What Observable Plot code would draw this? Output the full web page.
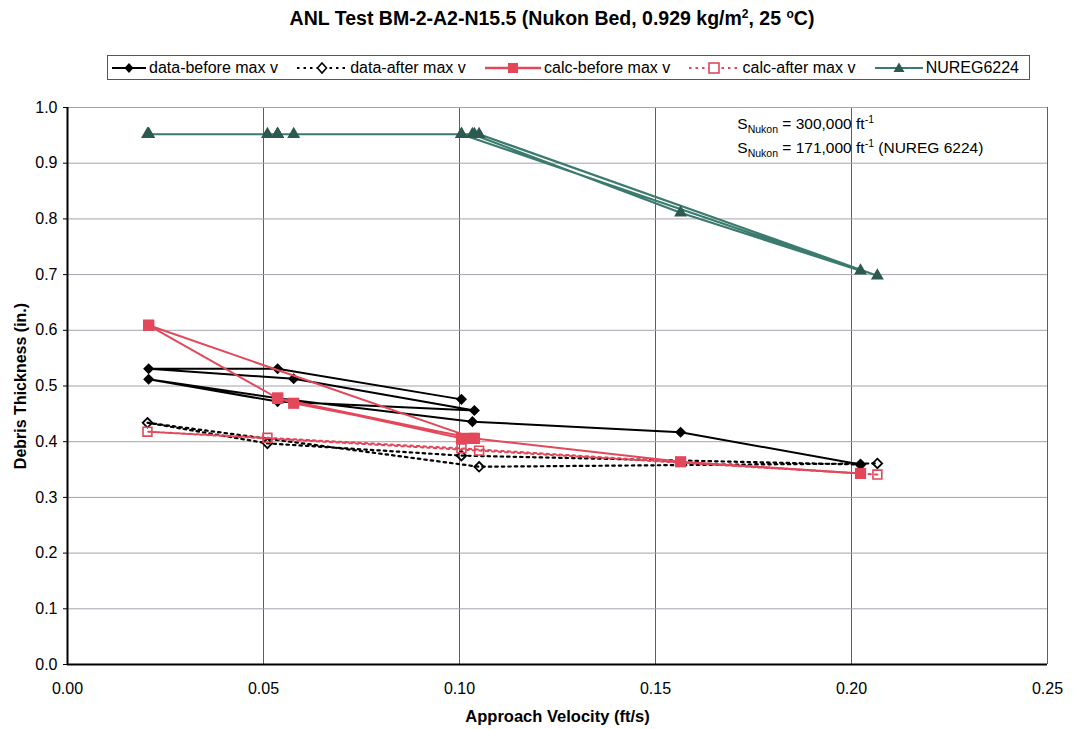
<!DOCTYPE html>
<html>
<head>
<meta charset="utf-8">
<script src="https://cdn.jsdelivr.net/npm/d3@7"></script>
<script src="https://cdn.jsdelivr.net/npm/@observablehq/plot@0.6"></script>
<style>
  body { margin: 0; background: #fff; font-family: "Liberation Sans", Arial, sans-serif; color: #000; }
  #title { height: 42px; box-sizing: border-box; padding-top: 7px; padding-left: 18px; text-align: center; font-weight: bold; font-size: 19.5px; line-height: 22px; }
  #title sup { font-size: 12px; vertical-align: 7px; line-height: 0; }
  #legendWrap { height: 50px; position: relative; }
  #legend { position: absolute; left: 107px; top: 13px; width: 923px; height: 25px; box-sizing: border-box; border: 1px solid #555;
            display: flex; align-items: center; justify-content: space-between; padding: 0 10px 0 4px; font-size: 16px; white-space: nowrap; }
  .item { display: flex; align-items: center; }
  .item svg { margin-right: 3px; }
  #chart svg { display: block; }
</style>
</head>
<body>
<div id="title">ANL Test BM-2-A2-N15.5 (Nukon Bed, 0.929 kg/m<sup>2</sup>, 25 <sup>o</sup>C)</div>
<div id="legendWrap"><div id="legend"></div></div>
<div id="chart"></div>
<script>
// ---- data ----
const seriesNames = ["data-before max v", "data-after max v", "calc-before max v", "calc-after max v", "NUREG6224"];

const vBefore    = [0.1005, 0.0536, 0.0207, 0.0577, 0.1038, 0.0536, 0.0207, 0.0536, 0.1033, 0.1564, 0.2023];
const dataBefore = [0.476, 0.531, 0.531, 0.513, 0.456, 0.472, 0.512, 0.478, 0.436, 0.417, 0.359];

const vCalcBefore = [0.1005, 0.0536, 0.0207, 0.1038, 0.0577, 0.0536, 0.0207, 0.0536, 0.1033, 0.1564, 0.2023];
const calcBefore  = [0.406, 0.478, 0.609, 0.406, 0.469, 0.478, 0.609, 0.478, 0.406, 0.364, 0.343];

const vAfter    = [0.2023, 0.1005, 0.0510, 0.0204, 0.1050, 0.2066];
const dataAfter = [0.359, 0.375, 0.397, 0.434, 0.355, 0.361];
const calcAfter = [0.343, 0.388, 0.407, 0.418, 0.384, 0.341];

const vNureg = [0.1005, 0.0536, 0.0207, 0.0577, 0.1038, 0.0536, 0.0207, 0.0536, 0.1033, 0.1564, 0.2023, 0.1005, 0.0510, 0.0204, 0.1050, 0.2066];
const nureg  = [0.952, 0.952, 0.952, 0.952, 0.952, 0.952, 0.952, 0.952, 0.952, 0.811, 0.707, 0.952, 0.952, 0.952, 0.952, 0.698];

const xTicks = [0, 0.05, 0.10, 0.15, 0.20, 0.25];
const yTicks = [0, 0.1, 0.2, 0.3, 0.4, 0.5, 0.6, 0.7, 0.8, 0.9, 1.0];

const annX = 0.171;
const annY = [0.96, 0.918];
const annValues = ["300,000", "171,000"];
const annExtra = ["", "(NUREG 6224)"];

// ---- build tables ----
const zip = (xs, ys) => xs.map((v, i) => ({v, t: ys[i]}));
const tDataBefore = zip(vBefore, dataBefore);
const tDataAfter = zip(vAfter, dataAfter);
const tCalcBefore = zip(vCalcBefore, calcBefore);
const tCalcAfter = zip(vAfter, calcAfter);
const tNureg = zip(vNureg, nureg);

const RED = "#e2485a";
const TEAL = "#3b7a6e";
const TEAL_DARK = "#2c5a4f";
const FONT = "'Liberation Sans', Arial, sans-serif";

const chart = Plot.plot({
  width: 1086,
  height: 637,
  marginTop: 15,
  marginLeft: 67,
  marginRight: 39,
  marginBottom: 65,
  style: {fontFamily: FONT, fontSize: "16px", background: "#fff", overflow: "visible"},
  x: {domain: [0, 0.25]},
  y: {domain: [0, 1]},
  marks: [
    Plot.ruleX(xTicks.slice(1), {y1: 0, y2: 1, stroke: "#5e5e5e", strokeWidth: 1}),
    Plot.ruleY(yTicks.slice(1), {x1: 0, x2: 0.25, stroke: "#a6a2ae", strokeWidth: 1}),
    Plot.axisX({ticks: xTicks, tickFormat: d3.format(".2f"), tickSize: 0, tickPadding: 18, label: null}),
    Plot.axisY({ticks: yTicks, tickFormat: d3.format(".1f"), tickSize: 4, tickPadding: 6, label: null}),
    Plot.ruleX([0], {y1: 0, y2: 1, stroke: "#000", strokeWidth: 2}),
    Plot.ruleY([0], {x1: 0, x2: 0.25, stroke: "#000", strokeWidth: 2}),

    // data-before
    Plot.line(tDataBefore, {x: "v", y: "t", stroke: "#000", strokeWidth: 2}),
    Plot.dot(tDataBefore, {x: "v", y: "t", symbol: "diamond2", r: 5, fill: "#000", stroke: "none"}),
    // data-after
    Plot.line(tDataAfter, {x: "v", y: "t", stroke: "#000", strokeWidth: 2.2, strokeDasharray: "2.5,4"}),
    Plot.dot(tDataAfter, {x: "v", y: "t", symbol: "diamond2", r: 4.3, fill: "none", stroke: "#000", strokeWidth: 1.8}),
    // calc-before
    Plot.line(tCalcBefore, {x: "v", y: "t", stroke: RED, strokeWidth: 2}),
    Plot.dot(tCalcBefore, {x: "v", y: "t", symbol: "square", r: 6.3, fill: RED, stroke: "none"}),
    // calc-after
    Plot.line(tCalcAfter, {x: "v", y: "t", stroke: RED, strokeWidth: 2, strokeDasharray: "2.5,4"}),
    Plot.dot(tCalcAfter, {x: "v", y: "t", symbol: "square", r: 5, fill: "none", stroke: RED, strokeWidth: 1.6}),
    // NUREG6224
    Plot.line(tNureg, {x: "v", y: "t", stroke: TEAL, strokeWidth: 2.2}),
    Plot.dot(tNureg, {x: "v", y: "t", symbol: "triangle", r: 4.8, fill: TEAL_DARK, stroke: "none"}),

    // axis titles
    Plot.text(["Debris Thickness (in.)"], {frameAnchor: "left", text: d => d, dx: -47, rotate: -90, fontWeight: "bold", fontSize: 16, textAnchor: "middle", lineAnchor: "middle"}),
    Plot.text(["Approach Velocity (ft/s)"], {frameAnchor: "bottom", text: d => d, dy: 52, fontWeight: "bold", fontSize: 16.5, textAnchor: "middle", lineAnchor: "middle"})
  ]
});
document.getElementById("chart").appendChild(chart);

// ---- annotation with subscripts / superscripts ----
const sx = chart.scale("x"), sy = chart.scale("y");
const svg = d3.select(chart);
annValues.forEach((val, i) => {
  const t = svg.append("text")
    .attr("x", sx.apply(annX)).attr("y", sy.apply(annY[i]))
    .attr("text-anchor", "start")
    .attr("font-family", FONT).attr("font-size", 15.5).attr("fill", "#000");
  t.append("tspan").text("S");
  t.append("tspan").attr("font-size", 10.5).attr("dy", 4).text("Nukon");
  t.append("tspan").attr("dy", -4).text(" = " + val + " ft");
  t.append("tspan").attr("font-size", 10.5).attr("dy", -6).text("-1");
  if (annExtra[i]) t.append("tspan").attr("dy", 6).text(" " + annExtra[i]);
});

// ---- legend ----
const legend = document.getElementById("legend");
const styles = [
  {stroke: "#000", dash: null, sw: 2, marker: "diamond", fill: "#000", mstroke: "none", w: 34},
  {stroke: "#000", dash: "2.5,4", sw: 2.2, marker: "diamond", fill: "#fff", mstroke: "#000", w: 50},
  {stroke: RED, dash: null, sw: 2.4, marker: "square", fill: RED, mstroke: "none", w: 56},
  {stroke: RED, dash: "2.5,4", sw: 2, marker: "square", fill: "#fff", mstroke: RED, w: 50},
  {stroke: TEAL, dash: null, sw: 2.2, marker: "triangle", fill: TEAL_DARK, mstroke: "none", w: 48}
];
seriesNames.forEach((name, i) => {
  const s = styles[i];
  const item = document.createElement("div");
  item.className = "item";
  const w = s.w, h = 16, cx = w / 2, cy = h / 2;
  let m = "";
  if (s.marker === "diamond") m = `<path d="M${cx},${cy-5} L${cx+4.5},${cy} L${cx},${cy+5} L${cx-4.5},${cy} Z" fill="${s.fill}" stroke="${s.mstroke}" stroke-width="1.6"/>`;
  if (s.marker === "square") m = `<rect x="${cx-5}" y="${cy-5}" width="10" height="10" fill="${s.fill}" stroke="${s.mstroke}" stroke-width="1.6"/>`;
  if (s.marker === "triangle") m = `<path d="M${cx},${cy-5.5} L${cx+5.5},${cy+4} L${cx-5.5},${cy+4} Z" fill="${s.fill}"/>`;
  item.innerHTML = `<svg width="${w}" height="${h}"><line x1="0" x2="${w}" y1="${cy}" y2="${cy}" stroke="${s.stroke}" stroke-width="${s.sw}" ${s.dash ? `stroke-dasharray="${s.dash}"` : ""}/>${m}</svg><span>${name}</span>`;
  legend.appendChild(item);
});
</script>
</body>
</html>
